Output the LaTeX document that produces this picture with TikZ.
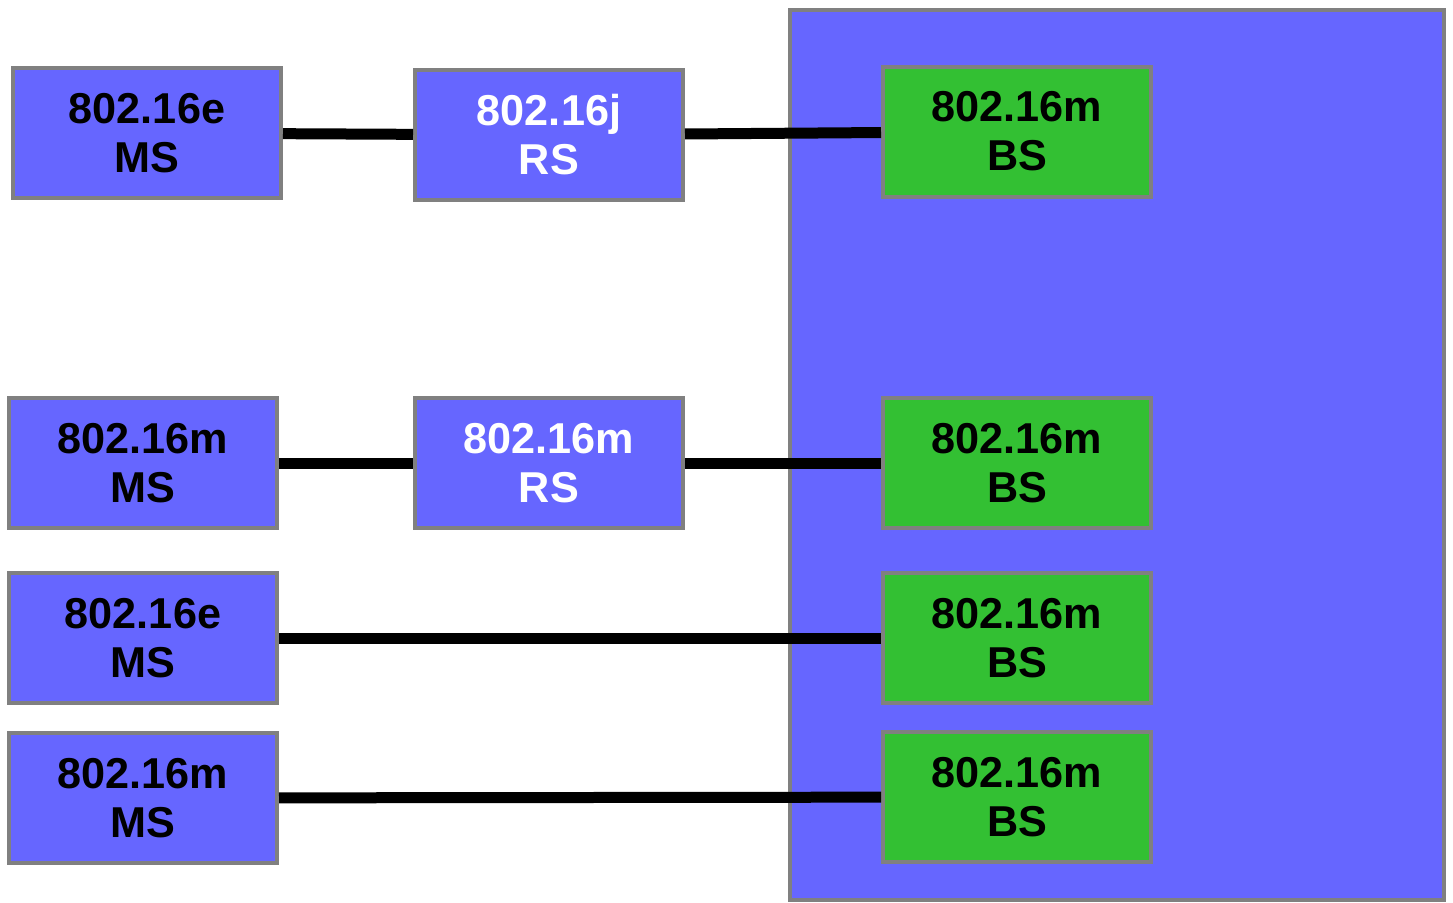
\documentclass[tikz,border=0pt]{standalone}
\usepackage{fontspec}
\setmainfont{Liberation Sans}
\usepackage{tikz}
\usetikzlibrary{positioning}
\tikzset{
    every node/.style={font=\fontsize{21.6}{24.5}\selectfont\bfseries},
}
\definecolor{boxblue}{HTML}{6666FF}
\definecolor{boxgreen}{HTML}{33C033}
\definecolor{boxgray}{HTML}{808080}

\begin{document}
\begin{tikzpicture}[x=0.5pt, y=-0.5pt,
        station/.style={rectangle,draw=boxgray,line width=2pt,fill=boxblue,
            minimum width=134pt,minimum height=65pt,inner sep=0pt,align=center},
        relay/.style={station,text=white},
        base/.style={station,fill=boxgreen},
        link/.style={line width=5.5pt,black}
    ]
    \useasboundingbox (0,0) rectangle (1453,902);

    % blocco di fondo delle BS
    \draw[draw=boxgray,line width=2pt,fill=boxblue] (790,10) rectangle (1444,900);

    % stazioni mobili
    \node[station] (ms1) at (147,133) {802.16e\\MS};
    \node[station] (ms2) at (143,463) {802.16m\\MS};
    \node[station] (ms3) at (143,638) {802.16e\\MS};
    \node[station] (ms4) at (143,798) {802.16m\\MS};

    % relay
    \node[relay] (rs1) at (549,135) {802.16j\\RS};
    \node[relay] (rs2) at (549,463) {802.16m\\RS};

    % stazioni base
    \node[base] (bs1) at (1017,131.5) {802.16m\\BS};
    \node[base] (bs2) at (1017,463) {802.16m\\BS};
    \node[base] (bs3) at (1017,638) {802.16m\\BS};
    \node[base] (bs4) at (1017,797) {802.16m\\BS};

    % collegamenti
    \draw[link] (ms1) -- (rs1);
    \draw[link] (rs1) -- (bs1);
    \draw[link] (ms2) -- (rs2);
    \draw[link] (rs2) -- (bs2);
    \draw[link] (ms3) -- (bs3);
    \draw[link] (ms4) -- (bs4);
\end{tikzpicture}
\end{document}
